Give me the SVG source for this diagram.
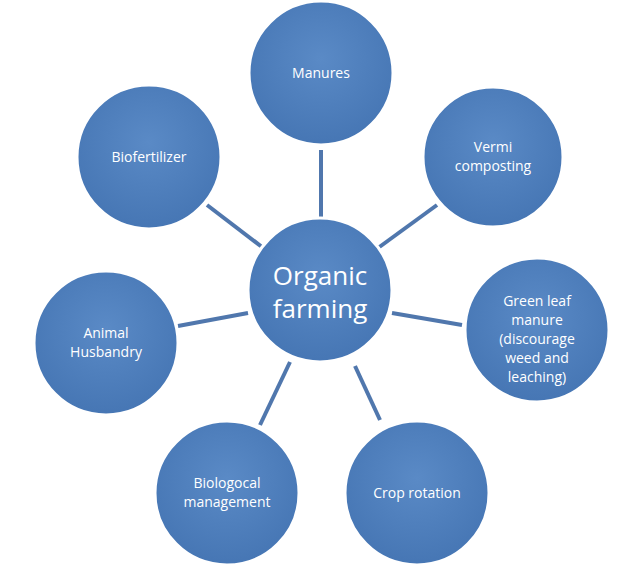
<svg xmlns="http://www.w3.org/2000/svg" width="640" height="585" viewBox="0 0 640 585">
<defs>
<radialGradient id="g" cx="50%" cy="40%" r="60%">
<stop offset="0" stop-color="#5a8ac6"/><stop offset="1" stop-color="#4676b4"/>
</radialGradient>
<style>
circle{fill:url(#g);stroke:#ffffff;stroke-width:3}
text{font-family:"Open Sans","Liberation Sans",sans-serif;fill:#fff;font-size:14px;text-anchor:middle}
.c line{stroke:#5077ad;stroke-width:4}
</style>
</defs>
<rect width="640" height="585" fill="#fff"/>
<g class="c">
<line x1="321" y1="150" x2="321" y2="220"/>
<line x1="437" y1="205" x2="378" y2="248"/>
<line x1="392" y1="313" x2="462" y2="325"/>
<line x1="355" y1="366" x2="380" y2="420"/>
<line x1="290" y1="362" x2="260" y2="425"/>
<line x1="178" y1="326" x2="248" y2="313"/>
<line x1="207" y1="205" x2="262" y2="247"/>
</g>
<g id="center"><circle cx="320" cy="290" r="72"/><text x="320" y="285" font-size="26" style="font-size:26px">Organic</text><text x="320" y="318" style="font-size:26px">farming</text></g>
<g id="manures"><circle cx="321" cy="73" r="72"/><text x="321" y="78">Manures</text></g>
<g id="vermi"><circle cx="493" cy="157" r="70"/><text x="493" y="152">Vermi</text><text x="493" y="171">composting</text></g>
<g id="green"><circle cx="537" cy="330" r="72"/><text x="537" y="306">Green leaf</text><text x="537" y="325">manure</text><text x="537" y="344">(discourage</text><text x="537" y="363">weed and</text><text x="537" y="382">leaching)</text></g>
<g id="crop"><circle cx="417" cy="493" r="72"/><text x="417" y="498">Crop rotation</text></g>
<g id="bio"><circle cx="227" cy="493" r="72"/><text x="227" y="488">Biologocal</text><text x="227" y="507">management</text></g>
<g id="animal"><circle cx="106" cy="343" r="72"/><text x="106" y="338">Animal</text><text x="106" y="357">Husbandry</text></g>
<g id="biofert"><circle cx="149" cy="157" r="72"/><text x="149" y="162">Biofertilizer</text></g>
</svg>
